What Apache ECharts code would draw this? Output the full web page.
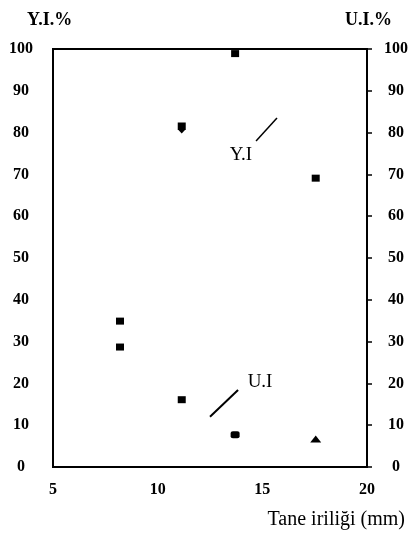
<!DOCTYPE html>
<html>
<head>
<meta charset="utf-8">
<script src="https://cdn.jsdelivr.net/npm/echarts@6/dist/echarts.min.js"></script>
<style>
  html, body { margin: 0; padding: 0; background: #fff; }
  #chart { width: 414px; height: 539px; }
</style>
</head>
<body>
<div id="chart"></div>
<script>
// Grain size (mm) of each sample
const grainSize = [8.2, 11.15, 13.7, 17.55];
// Y.I. % and U.I. % measured for each grain size
const yiValues = [34.9, 81.1, 98.9, 69.1];
const uiValues = [28.7, 16.1, 7.7, 6.7];
// Marker shape used for each sample
const yiSymbols = ['rect', 'path://M0,0L10,0L10,8L5,13L0,8Z', 'rect', 'rect'];
const uiSymbols = ['rect', 'rect', 'roundRect', 'triangle'];
// Axis ticks
const xTicks = [5, 10, 15, 20];
const yTicks = [0, 10, 20, 30, 40, 50, 60, 70, 80, 90, 100];
// Leader lines and callout labels in data units
const yiLeader = [[14.70, 78.0], [15.70, 83.5]];
const uiLeader = [[12.50, 12.0], [13.84, 18.4]];
const callouts = [
  { name: 'Y.I', value: [13.98, 74.6] },
  { name: 'U.I', value: [14.89, 20.3] }
];

const serif = '"Liberation Serif", "Times New Roman", serif';

function points(values, symbols) {
  return values.map((v, i) => {
    const s = symbols[i];
    let size = [8, 7];
    if (s.startsWith('path')) size = [8, 11];
    if (s === 'triangle') size = [11, 7];
    if (s === 'roundRect') size = [9, 7];
    return { value: [grainSize[i], v], symbol: s, symbolSize: size };
  });
}

const chart = echarts.init(document.getElementById('chart'), null, { renderer: 'canvas' });

const yAxisBase = {
  type: 'value',
  min: yTicks[0],
  max: yTicks[yTicks.length - 1],
  interval: 10,
  splitLine: { show: false },
  axisLine: { show: true, lineStyle: { color: '#000', width: 2 } }
};

chart.setOption({
  animation: false,
  backgroundColor: '#fff',
  grid: {
    left: 53, right: 47, top: 49, bottom: 72,
    show: true, borderColor: '#000', borderWidth: 2
  },
  xAxis: {
    type: 'value',
    min: xTicks[0],
    max: xTicks[xTicks.length - 1],
    interval: 5,
    splitLine: { show: false },
    axisTick: { show: false },
    axisLine: { show: true, lineStyle: { color: '#000', width: 2 } },
    axisLabel: {
      margin: 15, color: '#000',
      fontFamily: serif, fontWeight: 'bold', fontSize: 16
    }
  },
  yAxis: [
    Object.assign({}, yAxisBase, {
      position: 'left',
      axisTick: { show: false },
      axisLabel: {
        margin: 32, align: 'center', color: '#000',
        fontFamily: serif, fontWeight: 'bold', fontSize: 16
      }
    }),
    Object.assign({}, yAxisBase, {
      position: 'right',
      axisTick: { show: true, length: 5, lineStyle: { color: '#000', width: 1.5 } },
      axisLabel: {
        margin: 29, align: 'center', color: '#000',
        fontFamily: serif, fontWeight: 'bold', fontSize: 16
      }
    })
  ],
  graphic: [
    {
      type: 'text', left: 27, top: 11,
      style: { text: 'Y.I.%', fontFamily: serif, fontWeight: 'bold', fontSize: 18, fill: '#000' }
    },
    {
      type: 'text', left: 345, top: 11,
      style: { text: 'U.I.%', fontFamily: serif, fontWeight: 'bold', fontSize: 18, fill: '#000' }
    },
    {
      type: 'text', right: 9, top: 510,
      style: { text: 'Tane iriliği (mm)', fontFamily: serif, fontSize: 20, fill: '#000' }
    }
  ],
  series: [
    {
      name: 'Y.I',
      type: 'scatter',
      yAxisIndex: 0,
      itemStyle: { color: '#000', opacity: 1 },
      data: points(yiValues, yiSymbols),
      markLine: {
        silent: true, symbol: 'none', label: { show: false },
        lineStyle: { color: '#000', width: 1.5, type: 'solid', opacity: 1 },
        data: [[{ coord: yiLeader[0] }, { coord: yiLeader[1] }]]
      }
    },
    {
      name: 'U.I',
      type: 'scatter',
      yAxisIndex: 1,
      itemStyle: { color: '#000', opacity: 1 },
      data: points(uiValues, uiSymbols),
      markLine: {
        silent: true, symbol: 'none', label: { show: false },
        lineStyle: { color: '#000', width: 2, type: 'solid', opacity: 1 },
        data: [[{ coord: uiLeader[0] }, { coord: uiLeader[1] }]]
      }
    },
    {
      name: 'callouts',
      type: 'scatter',
      yAxisIndex: 0,
      symbolSize: 0,
      silent: true,
      itemStyle: { opacity: 1 },
      label: {
        show: true, position: 'inside', formatter: '{b}',
        fontFamily: serif, fontSize: 19, color: '#000'
      },
      data: callouts
    }
  ]
});
</script>
</body>
</html>
